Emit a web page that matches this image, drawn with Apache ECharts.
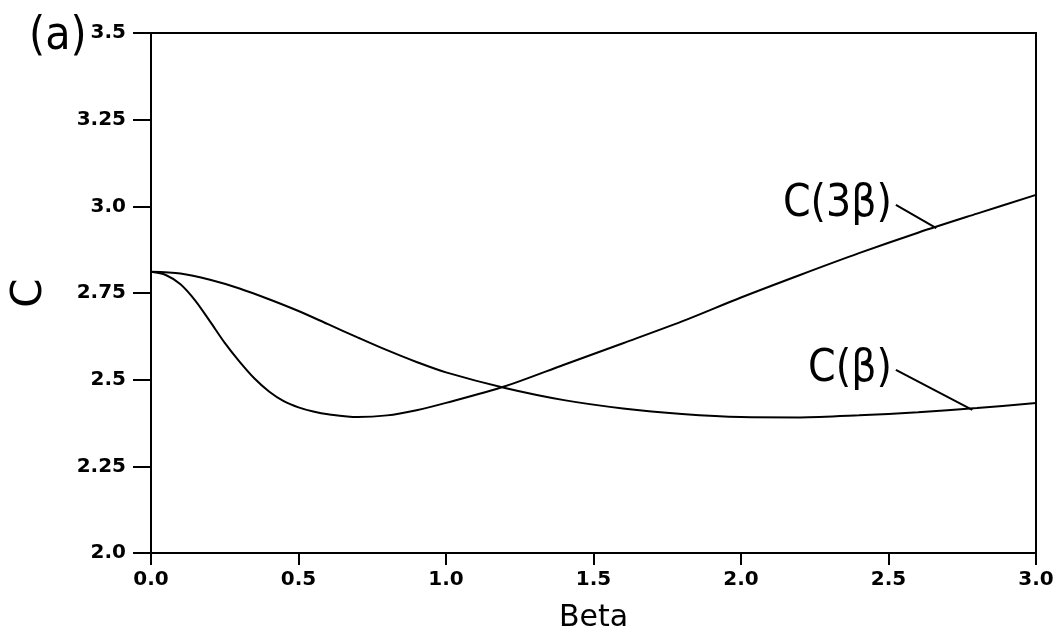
<!DOCTYPE html>
<html>
<head>
<meta charset="utf-8">
<script src="https://cdn.jsdelivr.net/npm/echarts@6/dist/echarts.min.js"></script>
<style>html,body{margin:0;padding:0;background:#fff}#c{width:1060px;height:632px}</style>
</head>
<body>
<div id="c"></div>
<script>
// Data
var betaSlow = [0, 0.1, 0.2, 0.3, 0.4, 0.5, 0.6, 0.7, 0.8, 0.9, 1.0, 1.2, 1.4, 1.6, 1.8, 2.0, 2.2, 2.4, 2.6, 2.8, 3.0];
var cBeta    = [2.811, 2.806, 2.788, 2.763, 2.732, 2.698, 2.660, 2.622, 2.585, 2.551, 2.521, 2.476, 2.441, 2.417, 2.401, 2.392, 2.391, 2.397, 2.406, 2.418, 2.433];
var betaFast = [0, 0.05, 0.1, 0.15, 0.2, 0.25, 0.3, 0.35, 0.4, 0.45, 0.5, 0.55, 0.6, 0.7, 0.8, 0.9, 1.0, 1.2, 1.4, 1.6, 1.8, 2.0, 2.2, 2.4, 2.6, 2.8, 3.0];
var c3Beta   = [2.811, 2.802, 2.775, 2.728, 2.668, 2.606, 2.552, 2.504, 2.466, 2.438, 2.420, 2.408, 2.400, 2.392, 2.397, 2.412, 2.433, 2.481, 2.543, 2.605, 2.668, 2.737, 2.802, 2.865, 2.924, 2.979, 3.033];
var xTicks = [0, 0.5, 1.0, 1.5, 2.0, 2.5, 3.0];
var yTicks = [2.0, 2.25, 2.5, 2.75, 3.0, 3.25, 3.5];
var labelText = ['C(3\u03b2)', 'C(\u03b2)'];
var leader3 = [[2.525, 3.004], [2.662, 2.937]];
var leader1 = [[2.525, 2.528], [2.784, 2.413]];

function pairs(xs, ys) { return xs.map(function (x, i) { return [x, ys[i]]; }); }

var chart = echarts.init(document.getElementById('c'), null, { renderer: 'canvas' });
var tickFont = { fontFamily: 'DejaVu Sans', fontWeight: 'bold', fontSize: 20, color: '#000' };
var handFamily = 'Liberation Sans Narrow, DejaVu Sans Condensed, sans-serif';

chart.setOption({
  animation: false,
  backgroundColor: '#fff',
  title: {
    text: '(a)', left: 24, top: 9,
    textStyle: { fontFamily: handFamily, fontSize: 46, fontWeight: 'normal', color: '#000' }
  },
  grid: { left: 151, right: 24, top: 33, bottom: 79, show: true, borderColor: '#000', borderWidth: 2,
          containLabel: false, outerBoundsMode: 'none' },
  xAxis: {
    type: 'value', min: xTicks[0], max: xTicks[xTicks.length - 1], interval: 0.5,
    name: 'Beta', nameLocation: 'middle', nameGap: 50,
    nameTextStyle: { fontFamily: 'DejaVu Sans', fontSize: 30, color: '#000' },
    axisLine: { lineStyle: { color: '#000', width: 2 } },
    axisTick: { show: true, length: 12, inside: false, lineStyle: { color: '#000', width: 2 } },
    axisLabel: Object.assign({ margin: 17, formatter: function (v) { return v.toFixed(1); } }, tickFont),
    splitLine: { show: false }
  },
  yAxis: {
    type: 'value', min: yTicks[0], max: yTicks[yTicks.length - 1], interval: 0.25,
    name: 'C', nameLocation: 'middle', nameGap: 100, nameRotate: 90,
    nameTextStyle: { fontFamily: 'DejaVu Sans', fontSize: 42, color: '#000' },
    axisLine: { lineStyle: { color: '#000', width: 2 } },
    axisTick: { show: true, length: 18, inside: false, lineStyle: { color: '#000', width: 2 } },
    axisLabel: Object.assign({ margin: 25, formatter: function (v) {
      var s = v.toFixed(2); return s.charAt(s.length - 1) === '0' ? v.toFixed(1) : s; } }, tickFont),
    splitLine: { show: false }
  },
  series: [
    {
      name: 'C(3beta)', type: 'line', smooth: 0.3, showSymbol: false, symbol: 'none',
      data: pairs(betaFast, c3Beta),
      lineStyle: { color: '#000', width: 2 },
      markLine: {
        silent: true, symbol: 'none', animation: false,
        lineStyle: { color: '#000', width: 2, type: 'solid' },
        label: { show: false },
        data: [[{ coord: leader3[0] }, { coord: leader3[1] }]]
      }
    },
    {
      name: 'C(beta)', type: 'line', smooth: 0.3, showSymbol: false, symbol: 'none',
      data: pairs(betaSlow, cBeta),
      lineStyle: { color: '#000', width: 2 },
      markLine: {
        silent: true, symbol: 'none', animation: false,
        lineStyle: { color: '#000', width: 2, type: 'solid' },
        label: { show: false },
        data: [[{ coord: leader1[0] }, { coord: leader1[1] }]]
      }
    },
    {
      name: 'labels', type: 'scatter', symbolSize: 0, silent: true,
      itemStyle: { color: '#000' },
      data: [
        { value: leader3[0], label: { formatter: labelText[0] } },
        { value: leader1[0], label: { formatter: labelText[1] } }
      ],
      label: { show: true, position: 'left', distance: 4, fontFamily: handFamily, fontSize: 44, color: '#000', opacity: 1 }
    }
  ]
});
</script>
</body>
</html>
